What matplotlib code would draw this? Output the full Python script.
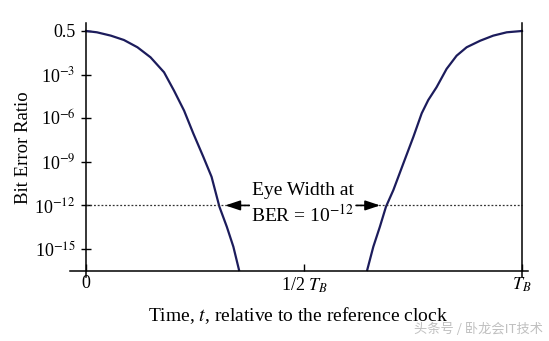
import numpy as np
import matplotlib
matplotlib.use("Agg")
import matplotlib.pyplot as plt

plt.rcParams['font.family'] = ['Liberation Serif', 'DejaVu Serif']
plt.rcParams['mathtext.fontset'] = 'stix'

# curve data: x = fraction of bit period T_B, y = decade position (0 -> 0.5, -3 -> 1e-3, ...)
left_t = [0.0, 0.025, 0.057, 0.087, 0.118, 0.148, 0.179, 0.202, 0.225, 0.246, 0.269,
          0.288, 0.306, 0.323, 0.338, 0.351]
left_y = [0.0, -0.09, -0.32, -0.62, -1.12, -1.81, -2.84, -4.11, -5.48, -7.04, -8.65,
          -10.03, -12.09, -13.47, -14.84, -16.44]
right_t = [0.645, 0.659, 0.674, 0.688, 0.705, 0.728, 0.751, 0.770, 0.785, 0.804, 0.827,
           0.850, 0.873, 0.904, 0.934, 0.965, 1.0]
right_y = [-16.44, -14.84, -13.47, -12.09, -10.94, -9.10, -7.27, -5.66, -4.75, -3.87, -2.61,
           -1.70, -1.12, -0.67, -0.32, -0.09, 0.0]

ytick_pos = [0, -3, -6, -9, -12, -15]
ytick_labels = ["0.5", "10$^{-3}$", "10$^{-6}$", "10$^{-9}$", "10$^{-12}$", "10$^{-15}$"]
xtick_pos = [0, 0.5, 1]
xtick_labels = ["0", "1/2 $T_B$", "$T_B$"]
eye_ber = -12
eye_left, eye_right = 0.306, 0.688

W, H = 549, 341
fig = plt.figure(figsize=(W / 100, H / 100), dpi=100)
ax = fig.add_axes([60 / W, (H - 280) / H, 475 / W, 265 / H])
ax.set_xlim(-0.0596, 1.0298)
ax.set_ylim(-17.13, 1.10)

line_c = "#1c1c5c"
ax.plot(left_t, left_y, color=line_c, lw=1.6, solid_joinstyle="round")
ax.plot(right_t, right_y, color=line_c, lw=1.6, solid_joinstyle="round")

# BER = 1e-12 reference line
ax.plot([0, 1], [eye_ber, eye_ber], color="#333", lw=0.9, ls=(0, (1.5, 1.5)))

# spines as drawn axes
for s in ["left", "right"]:
    ax.spines[s].set_position(("data", 0 if s == "left" else 1))
    ax.spines[s].set_bounds(-16.93, 0.55)
ax.spines["bottom"].set_position(("data", -16.51))
ax.spines["bottom"].set_bounds(-0.037, 1.014)
ax.spines["top"].set_visible(False)
for s in ["left", "right", "bottom"]:
    ax.spines[s].set_linewidth(1.1)

ax.set_yticks(ytick_pos)
ax.set_yticklabels(ytick_labels, fontsize=13)
ax.tick_params(axis="y", direction="inout", length=7, width=1.0, pad=4)
ax.set_xticks(xtick_pos)
ax.set_xticklabels(xtick_labels, fontsize=13)
ax.tick_params(axis="x", direction="in", length=5, width=1.0, pad=3)

ax.set_ylabel("Bit Error Ratio", fontsize=13.5, labelpad=2)
ax.set_xlabel("Time, $t$, relative to the reference clock", fontsize=14, labelpad=8)

# eye width annotation
arrow = dict(arrowstyle="-|>,head_length=0.9,head_width=0.3", color="black", lw=1.2)
ax.annotate("", xy=(eye_left + 0.007, eye_ber), xytext=(0.381, eye_ber), arrowprops=arrow)
ax.annotate("", xy=(eye_right - 0.007, eye_ber), xytext=(0.613, eye_ber), arrowprops=arrow)
ax.text(0.497, -11.0, "Eye Width at", ha="center", va="center", fontsize=14,
        bbox=dict(fc="white", ec="none", pad=0.5))
ax.text(0.497, -12.6, "BER = 10$^{-12}$", ha="center", va="center", fontsize=14,
        bbox=dict(fc="white", ec="none", pad=0.5))

fig.text(479 / W, 1 - 329 / H, "头条号 / 卧龙会IT技术", ha="center", va="center",
         fontsize=9.5, color="#c0c0c0", family=["Noto Sans CJK SC", "DejaVu Sans"])

fig.savefig("out.png", dpi=100)
